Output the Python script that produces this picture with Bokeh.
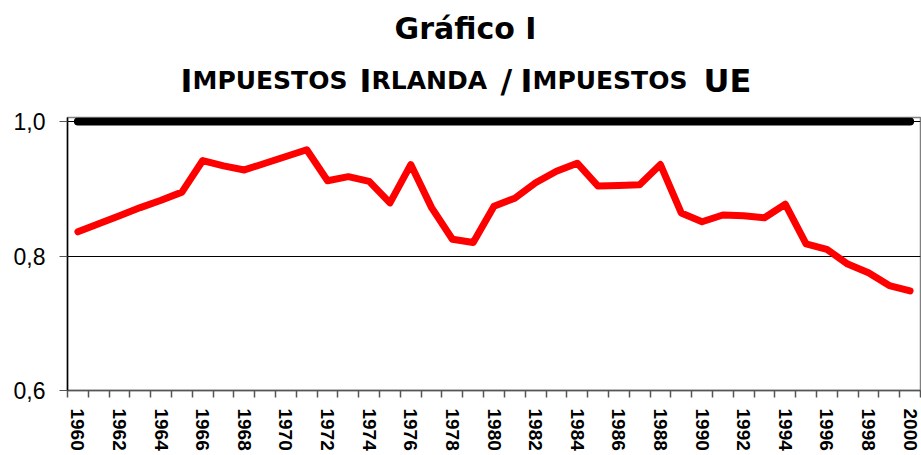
import math
from bokeh.plotting import figure
from bokeh.layouts import column
from bokeh.models import FixedTicker, Range1d
from bokeh.core.properties import value
from bokeh.embed import file_html
from bokeh.resources import INLINE

# ---- data ----
years = list(range(1960, 2001))
irlanda_ue = [0.836, 0.848, 0.860, 0.872, 0.883, 0.895, 0.942, 0.934, 0.928, 0.938,
              0.948, 0.958, 0.912, 0.918, 0.911, 0.879, 0.936, 0.872, 0.825, 0.820,
              0.874, 0.886, 0.909, 0.926, 0.938, 0.904, 0.905, 0.906, 0.936, 0.864,
              0.851, 0.861, 0.860, 0.857, 0.877, 0.818, 0.810, 0.788, 0.775, 0.756,
              0.748]
ue_ue = [1.0, 1.0, 1.0, 1.0, 1.0, 1.0, 1.0, 1.0, 1.0, 1.0,
         1.0, 1.0, 1.0, 1.0, 1.0, 1.0, 1.0, 1.0, 1.0, 1.0,
         1.0, 1.0, 1.0, 1.0, 1.0, 1.0, 1.0, 1.0, 1.0, 1.0,
         1.0, 1.0, 1.0, 1.0, 1.0, 1.0, 1.0, 1.0, 1.0, 1.0,
         1.0]
x_tick_labels = ["1960", "1962", "1964", "1966", "1968", "1970", "1972", "1974",
                 "1976", "1978", "1980", "1982", "1984", "1986", "1988", "1990",
                 "1992", "1994", "1996", "1998", "2000"]
y_ticks = [0.6, 0.8, 1.0]
y_tick_labels = ["0,6", "0,8", "1,0"]

title_text = "Gráfico I"
# subtitle words: (large initial, small-caps rest)
subtitle_words = [("I", "MPUESTOS"), ("I", "RLANDA"), ("/", ""), ("I", "MPUESTOS"), ("UE", "")]

W = 921
HEAD_H = 105
CHART_H = 350
FL, FR = 67, 920   # frame left / right in page pixels

# ---- header (titles) ----
head = figure(width=W, height=HEAD_H, title=None,
              x_range=Range1d(FL, FR), y_range=Range1d(HEAD_H, 0),
              output_backend="svg", toolbar_location=None,
              x_axis_type=None, y_axis_type=None,
              min_border_left=FL, min_border_right=W - FR,
              min_border_top=0, min_border_bottom=0)
head.outline_line_color = None
head.grid.visible = False
head.text(x=[465], y=[28], text=[title_text], text_font=value("DejaVu Sans"),
          text_font_style="bold", text_font_size="30px", text_align="center",
          text_baseline="alphabetic", text_color="black")

word_lefts = [180, 359, 500, 520, 703]
big_x, big_t, small_x, small_t = [], [], [], []
for (big, rest), left in zip(subtitle_words, word_lefts):
    big_x.append(left)
    big_t.append(big)
    if rest:
        small_x.append(left + 12)
        small_t.append(rest)
head.text(x=big_x, y=[80] * len(big_x), text=big_t, text_font=value("DejaVu Sans"),
          text_font_style="bold", text_font_size="32px", text_align="left",
          text_baseline="alphabetic", text_color="black")
head.text(x=small_x, y=[80] * len(small_x), text=small_t, text_font=value("DejaVu Sans"),
          text_font_style="bold", text_font_size="25px", text_align="left",
          text_baseline="alphabetic", text_color="black")

# ---- chart ----
p = figure(width=W, height=CHART_H, title=None,
           x_range=Range1d(years[0] - 0.5, years[-1] + 0.5),
           y_range=Range1d(0.6, 1.006),
           output_backend="svg", toolbar_location=None,
           min_border_left=FL, min_border_right=W - FR,
           min_border_top=12, min_border_bottom=65)
p.background_fill_color = "white"
p.border_fill_color = "white"
p.outline_line_color = "#808080"
p.outline_line_width = 1.5

p.line(years, irlanda_ue, line_color="#FF0000", line_width=7,
       line_join="round", line_cap="round")
p.line(years, ue_ue, line_color="black", line_width=8, line_cap="round")

# x axis
label_years = [int(s) for s in x_tick_labels]
boundaries = [y - 0.5 for y in years] + [years[-1] + 0.5]
p.xaxis.ticker = FixedTicker(ticks=label_years, minor_ticks=boundaries)
p.xaxis.major_label_overrides = {y: s for y, s in zip(label_years, x_tick_labels)}
p.xaxis.major_tick_line_color = None
p.xaxis.major_tick_out = 0
p.xaxis.major_tick_in = 0
p.xaxis.minor_tick_out = 7
p.xaxis.minor_tick_in = 0
p.xaxis.minor_tick_line_color = "#555555"
p.xaxis.minor_tick_line_width = 1.5
p.xaxis.axis_line_color = "#555555"
p.xaxis.axis_line_width = 1.5
p.xaxis.major_label_orientation = -math.pi / 2
p.xaxis.major_label_standoff = 11
p.xaxis.major_label_text_font = "Liberation Sans"
p.xaxis.major_label_text_font_style = "bold"
p.xaxis.major_label_text_font_size = "19px"
p.xaxis.major_label_text_color = "black"
p.xgrid.visible = False

# y axis
p.yaxis.ticker = FixedTicker(ticks=y_ticks)
p.yaxis.major_label_overrides = {v: s for v, s in zip(y_ticks, y_tick_labels)}
p.yaxis.major_tick_out = 8
p.yaxis.major_tick_in = 0
p.yaxis.minor_tick_line_color = None
p.yaxis.axis_line_color = "black"
p.yaxis.axis_line_width = 1.5
p.yaxis.major_tick_line_color = "#555555"
p.yaxis.major_label_standoff = 14
p.yaxis.major_label_text_font = "Liberation Sans"
p.yaxis.major_label_text_font_size = "23px"
p.yaxis.major_label_text_color = "black"
p.ygrid.ticker = FixedTicker(ticks=y_ticks)
p.ygrid.grid_line_color = "black"
p.ygrid.grid_line_width = 1

layout = column(head, p, spacing=0)
open("out.html", "w").write(file_html(layout, INLINE))
